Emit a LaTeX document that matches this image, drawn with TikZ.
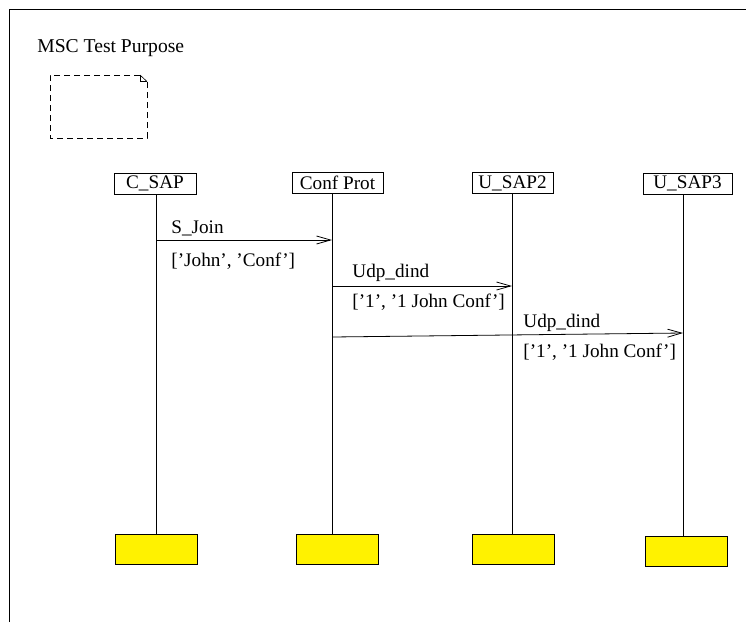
\documentclass[tikz,border=0pt]{standalone}
\usepackage{fontspec}
\setmainfont{Liberation Serif}
\usetikzlibrary{arrows.meta}
\begin{document}
\begin{tikzpicture}[x=1pt,y=-1pt,line width=0.8pt,
  every node/.style={font=\fontsize{19.2}{23}\selectfont, inner sep=0pt},
  head/.style={draw, minimum height=21pt, anchor=center},
  endbox/.style={draw, fill=yellow, minimum width=82pt, minimum height=30pt, anchor=center},
  lbl/.style={anchor=base west},
  msg/.style={-{Straight Barb[length=14pt,width=8pt,line width=0.8pt]}},
  notebox/.style={dashed, dash pattern=on 6pt off 4pt}]
\useasboundingbox (0,0) rectangle (746,622);
% frame
\draw (9.5,622) -- (9.5,9.5) -- (746,9.5);
\node[lbl, font=\fontsize{19.6}{23}\selectfont] (title) at (37,52) {MSC Test Purpose};
% note
\draw[notebox] (140,75) -- (50,75) -- (50,138) -- (147,138) -- (147,82);
\draw[line width=0.6pt] (140,75) -- (140,81.5) -- (147,81.5);
\draw[line width=0.6pt] (140,75) -- (147,81.5);
% lifeline heads
\node[head, minimum width=82pt] (hA) at (155,183.5) {C\_SAP};
\node[head, minimum width=91pt] (hB) at (337.5,183) {Conf Prot};
\node[head, minimum width=81pt] (hC) at (512.5,183) {U\_SAP2};
\node[head, minimum width=89pt] (hD) at (687.5,183.5) {U\_SAP3};
% end boxes
\node[endbox] (eA) at (156,549) {};
\node[endbox] (eB) at (337,549) {};
\node[endbox] (eC) at (513,549) {};
\node[endbox] (eD) at (686,551.5) {};
% lifeline x positions
\coordinate (lA) at (156,0);
\coordinate (lB) at (332,0);
\coordinate (lC) at (512,0);
\coordinate (lD) at (683,0);
\draw (hA.south -| lA) -- (eA.north -| lA);
\draw (hB.south -| lB) -- (eB.north -| lB);
\draw (hC.south -| lC) -- (eC.north -| lC);
\draw (hD.south -| lD) -- (eD.north -| lD);
% messages
\coordinate (m1s) at (156,240);
\coordinate (m1e) at (332,240);
\coordinate (m2s) at (332,286);
\coordinate (m2e) at (512,286);
\coordinate (m3s) at (332,337);
\coordinate (m3e) at (683,333);
\draw[msg] (m1s) -- (m1e);
\draw[msg] (m2s) -- (m2e);
\draw[msg] (m3s) -- (m3e);
\node[lbl] (t1) at (171,233) {S\_Join};
\node[lbl] (p1) at (171,266) {[’John’, ’Conf’]};
\node[lbl] (t2) at (352,277) {Udp\_dind};
\node[lbl] (p2) at (352,307) {[’1’, ’1 John Conf’]};
\node[lbl] (t3) at (523,327) {Udp\_dind};
\node[lbl] (p3) at (523,357) {[’1’, ’1 John Conf’]};
\end{tikzpicture}
\end{document}
